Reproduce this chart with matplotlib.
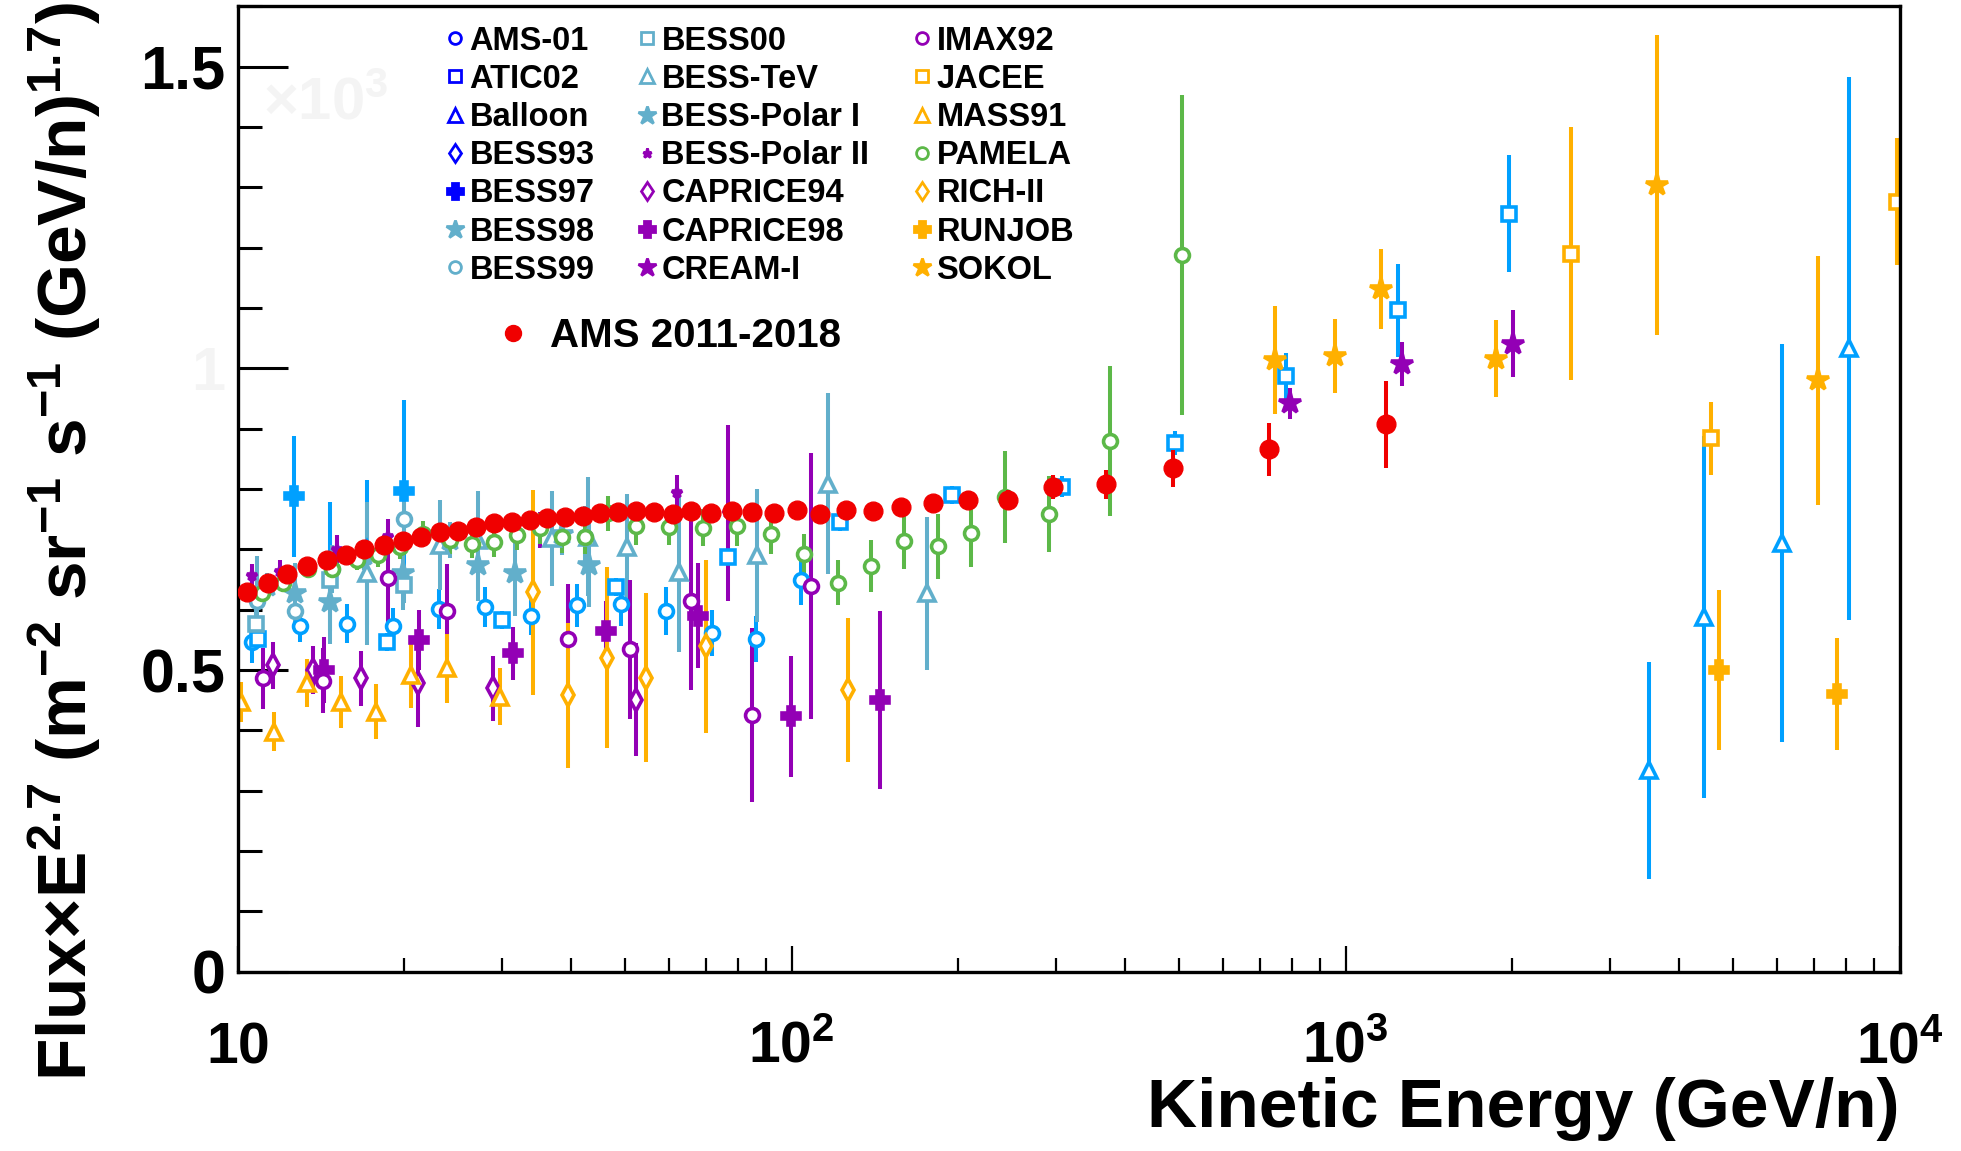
import numpy as np
import matplotlib
matplotlib.use("Agg")
import matplotlib.pyplot as plt
from matplotlib.lines import Line2D
from matplotlib.ticker import MultipleLocator, LogLocator, NullFormatter
import matplotlib.transforms as mtransforms

plt.rcParams['font.family'] = ['Liberation Sans', 'DejaVu Sans']
plt.rcParams['font.weight'] = 'bold'
plt.rcParams['mathtext.fontset'] = 'custom'
plt.rcParams['mathtext.rm'] = 'Liberation Sans:bold'
plt.rcParams['mathtext.it'] = 'Liberation Sans:bold'
plt.rcParams['mathtext.bf'] = 'Liberation Sans:bold'

# ---- data (Flux x E^2.7, units of 10^3) ----
ams_E = [10.39, 11.33, 12.29, 13.33, 14.48, 15.69, 16.93, 18.38, 19.86, 21.43, 23.19, 24.96,
         26.93, 29.00, 31.25, 33.72, 36.23, 38.99, 41.97, 45.10, 48.67, 52.38, 56.44, 61.15,
         65.82, 71.53, 77.97, 84.95, 93.07, 102.1, 112.5, 125.4, 140.1, 157.4, 179.8, 208.4,
         245.5, 296.0, 369.0, 488.7, 727.9, 1183]
ams_y = [0.629, 0.644, 0.659, 0.673, 0.682, 0.690, 0.700, 0.708, 0.714, 0.721, 0.729, 0.731,
         0.737, 0.743, 0.746, 0.748, 0.752, 0.754, 0.755, 0.760, 0.762, 0.764, 0.762, 0.758,
         0.764, 0.760, 0.764, 0.762, 0.760, 0.765, 0.758, 0.766, 0.764, 0.770, 0.777, 0.782,
         0.782, 0.804, 0.808, 0.834, 0.866, 0.907]
ams_err = [0.004] * 24 + [0.005, 0.005, 0.006, 0.006, 0.007, 0.007, 0.008, 0.009, 0.010,
                          0.011, 0.012, 0.014, 0.016, 0.020, 0.024, 0.030, 0.044, 0.072]

ams01_E = [10.6, 12.96, 15.74, 19.10, 23.1, 27.96, 33.85, 40.94, 49.22, 59.33, 71.74, 86.15, 103.8]
ams01_y = [0.547, 0.573, 0.577, 0.573, 0.601, 0.605, 0.590, 0.607, 0.609, 0.598, 0.561, 0.551, 0.650]
ams01_err = [0.035, 0.026, 0.032, 0.030, 0.033, 0.033, 0.032, 0.035, 0.036, 0.040, 0.038, 0.038, 0.043]

atic_E = [10.9, 18.58, 29.97, 48.2, 76.9, 122.4, 194.5, 308.0, 491, 780, 1242, 1969]
atic_y = [0.552, 0.547, 0.583, 0.638, 0.688, 0.746, 0.790, 0.804, 0.876, 0.987, 1.096, 1.256]
atic_err = [0.015, 0.015, 0.015, 0.015, 0.015, 0.015, 0.015, 0.018, 0.02, 0.039, 0.077, 0.097]

balloon_E = [3524, 4444, 6133, 8089]
balloon_y = [0.334, 0.588, 0.710, 1.033]
balloon_err = [0.18, 0.30, 0.33, 0.45]

bess93_E = [14.68, 17.1]
bess93_y = [0.672, 0.695]
bess93_err = [0.107, 0.12]

bess97_E = [12.66, 19.97]
bess97_y = [0.788, 0.797]
bess97_err = [0.10, 0.15]

bess98_E = [12.69, 14.68, 19.9, 27.2, 31.7, 43.1]
bess98_y = [0.627, 0.613, 0.660, 0.674, 0.660, 0.674]
bess98_err = [0.05, 0.07, 0.06, 0.06, 0.07, 0.07]

bess99_E = [10.83, 12.69, 14.78, 19.93, 42.4]
bess99_y = [0.614, 0.597, 0.668, 0.751, 0.721]
bess99_err = [0.075, 0.03, 0.04, 0.04, 0.05]

bess00_E = [10.8, 14.67, 19.93]
bess00_y = [0.577, 0.649, 0.641]
bess00_err = [0.03, 0.03, 0.03]

besstev_E = [17.1, 23.19, 27.2, 36.9, 42.96, 50.4, 62.7, 86.5, 116.4, 175.4]
besstev_y = [0.660, 0.707, 0.715, 0.718, 0.721, 0.704, 0.663, 0.690, 0.809, 0.627]
besstev_err = [0.119, 0.075, 0.081, 0.079, 0.099, 0.088, 0.133, 0.11, 0.15, 0.127]

polar1_E = [11.3, 16.9, 24.2, 38.5]
polar1_y = [0.64, 0.69, 0.715, 0.725]
polar1_err = [0.02, 0.025, 0.03, 0.035]

polar2_E = [10.6, 11.93, 15.1, 18.7, 35.1, 62.0, 76.9]
polar2_y = [0.655, 0.663, 0.699, 0.721, 0.732, 0.793, 0.760]
polar2_err = [0.02, 0.02, 0.025, 0.03, 0.03, 0.03, 0.146]

cap94_E = [11.57, 13.67, 16.7, 21.2, 28.9, 52.4]
cap94_y = [0.508, 0.500, 0.486, 0.479, 0.470, 0.451]
cap94_err = [0.039, 0.04, 0.046, 0.073, 0.054, 0.094]

cap98_E = [14.34, 21.28, 31.45, 46.2, 67.7, 99.7, 144.4]
cap98_y = [0.500, 0.550, 0.528, 0.565, 0.590, 0.423, 0.450]
cap98_err = [0.054, 0.05, 0.044, 0.05, 0.087, 0.10, 0.147]

cream_E = [794, 1265, 2005]
cream_y = [0.942, 1.007, 1.041]
cream_err = [0.026, 0.037, 0.056]

imax_E = [11.13, 14.28, 18.66, 23.85, 39.4, 51.1, 65.8, 84.9, 108.4]
imax_y = [0.486, 0.482, 0.652, 0.598, 0.552, 0.534, 0.615, 0.425, 0.639]
imax_err = [0.05, 0.054, 0.075, 0.077, 0.09, 0.115, 0.148, 0.144, 0.22]

jacee_E = [2555, 4562, 9876]
jacee_y = [1.190, 0.884, 1.276]
jacee_err = [0.21, 0.06, 0.105]

mass_E = [10.14, 11.65, 13.34, 15.37, 17.77, 20.56, 23.85, 29.77]
mass_y = [0.447, 0.398, 0.478, 0.447, 0.431, 0.492, 0.503, 0.456]
mass_err = [0.033, 0.033, 0.04, 0.043, 0.046, 0.055, 0.057, 0.047]

pamela_E = [11.05, 12.09, 13.42, 14.79, 16.41, 17.95, 19.64, 21.64, 24.17, 26.46, 29.03, 31.98,
            35.14, 38.46, 42.38, 46.56, 52.38, 60.16, 69.28, 79.60, 91.68, 105.3, 121.1, 138.9,
            159.7, 183.5, 210.8, 242.8, 291.5, 375.6, 505.8]
pamela_y = [0.627, 0.644, 0.668, 0.668, 0.683, 0.690, 0.704, 0.726, 0.715, 0.709, 0.712, 0.724,
            0.735, 0.721, 0.721, 0.760, 0.738, 0.737, 0.736, 0.738, 0.725, 0.692, 0.645, 0.672,
            0.714, 0.705, 0.727, 0.787, 0.758, 0.880, 1.188]
pamela_err = [0.015, 0.015, 0.016, 0.017, 0.018, 0.019, 0.02, 0.021, 0.022, 0.023, 0.024, 0.025,
              0.026, 0.027, 0.028, 0.029, 0.03, 0.03, 0.031, 0.032, 0.033, 0.033, 0.038, 0.043,
              0.047, 0.054, 0.057, 0.076, 0.063, 0.124, 0.265]

rich_E = [34.1, 39.5, 46.4, 54.5, 70.0, 126.3]
rich_y = [0.629, 0.458, 0.520, 0.487, 0.539, 0.467]
rich_err = [0.17, 0.12, 0.15, 0.14, 0.144, 0.12]

runjob_E = [4717, 7716]
runjob_y = [0.500, 0.460]
runjob_err = [0.133, 0.093]

sokol_E = [745, 956, 1159, 1866, 3652, 7116]
sokol_y = [1.014, 1.020, 1.131, 1.016, 1.304, 0.980]
sokol_err = [0.089, 0.061, 0.066, 0.064, 0.249, 0.207]

# ---- colours ----
BLUE = '#00a0ff'
BLUE_LEG = '#0000ff'
CYAN = '#62afcb'
PURPLE = '#9300b5'
ORANGE = '#ffb000'
GREEN = '#5cb848'
RED = '#f00000'

# name, E, y, err, colour, legend colour, marker, size, open
datasets = [
    ('AMS-01', ams01_E, ams01_y, ams01_err, BLUE, BLUE_LEG, 'o', 10, True),
    ('ATIC02', atic_E, atic_y, atic_err, BLUE, BLUE_LEG, 's', 10, True),
    ('Balloon', balloon_E, balloon_y, balloon_err, BLUE, BLUE_LEG, '^', 12, True),
    ('BESS93', bess93_E, bess93_y, bess93_err, BLUE, BLUE_LEG, 'd', 11, True),
    ('BESS97', bess97_E, bess97_y, bess97_err, BLUE, BLUE_LEG, 'P', 13, False),
    ('BESS98', bess98_E, bess98_y, bess98_err, CYAN, CYAN, '*', 16, False),
    ('BESS99', bess99_E, bess99_y, bess99_err, CYAN, CYAN, 'o', 10, True),
    ('BESS00', bess00_E, bess00_y, bess00_err, CYAN, CYAN, 's', 10, True),
    ('BESS-TeV', besstev_E, besstev_y, besstev_err, CYAN, CYAN, '^', 12, True),
    ('BESS-Polar I', polar1_E, polar1_y, polar1_err, CYAN, CYAN, '*', 16, False),
    ('BESS-Polar II', polar2_E, polar2_y, polar2_err, PURPLE, PURPLE, '*', 8, False),
    ('CAPRICE94', cap94_E, cap94_y, cap94_err, PURPLE, PURPLE, 'd', 11, True),
    ('CAPRICE98', cap98_E, cap98_y, cap98_err, PURPLE, PURPLE, 'P', 13, False),
    ('CREAM-I', cream_E, cream_y, cream_err, PURPLE, PURPLE, '*', 16, False),
    ('IMAX92', imax_E, imax_y, imax_err, PURPLE, PURPLE, 'o', 10, True),
    ('JACEE', jacee_E, jacee_y, jacee_err, ORANGE, ORANGE, 's', 10, True),
    ('MASS91', mass_E, mass_y, mass_err, ORANGE, ORANGE, '^', 12, True),
    ('PAMELA', pamela_E, pamela_y, pamela_err, GREEN, GREEN, 'o', 10, True),
    ('RICH-II', rich_E, rich_y, rich_err, ORANGE, ORANGE, 'd', 11, True),
    ('RUNJOB', runjob_E, runjob_y, runjob_err, ORANGE, ORANGE, 'P', 13, False),
    ('SOKOL', sokol_E, sokol_y, sokol_err, ORANGE, ORANGE, '*', 16, False),
]

xtick_vals = [10, 100, 1000, 10000]
xtick_labels = [r'$10$', r'$10^{2}$', r'$10^{3}$', r'$10^{4}$']
ytick_vals = [0, 0.5, 1, 1.5]
ytick_labels = ['0', '0.5', '1', '1.5']

fig = plt.figure(figsize=(19.61, 11.51), dpi=100)
ax = fig.add_axes([0.1212, 0.1558, 0.8475, 0.8387])

for name, E, y, err, col, lcol, mk, ms, hollow in datasets:
    ax.errorbar(E, y, yerr=err, fmt=mk, color=col, ms=ms, mec=col,
                mfc='white' if hollow else col, mew=2.6, elinewidth=2.9, capsize=0)

ax.errorbar(ams_E, ams_y, yerr=ams_err, fmt='o', color=RED, ms=13.5, mec=RED,
            mfc=RED, elinewidth=2.9, capsize=0, zorder=5)

ax.set_xscale('log')
ax.set_xlim(10, 10000)
ax.set_ylim(0, 1.6)

for s in ax.spines.values():
    s.set_linewidth(2.4)

ax.set_yticks(ytick_vals)
ax.set_yticklabels(ytick_labels, fontsize=44, fontweight='bold')
ax.get_yticklabels()[2].set_color('#f4f4f4')
ax.yaxis.set_minor_locator(MultipleLocator(0.1))
ax.tick_params(axis='y', which='major', direction='in', length=36, width=2.2, pad=9)
ax.tick_params(axis='y', which='minor', direction='in', length=17, width=2.2)

ax.set_xticks(xtick_vals)
ax.xaxis.set_minor_locator(LogLocator(base=10, subs=np.arange(2, 10)))
ax.xaxis.set_minor_formatter(NullFormatter())
ax.tick_params(axis='x', which='major', direction='in', length=19, width=1.6, labelbottom=False)
ax.tick_params(axis='x', which='minor', direction='in', length=10, width=1.6)

trans = mtransforms.blended_transform_factory(ax.transData, ax.transAxes)
for xv, lab in zip(xtick_vals, xtick_labels):
    ax.text(xv, -0.0946, lab, transform=trans, ha='center', va='baseline', fontsize=41,
            clip_on=False)

ax.text(0.0153, 0.883, r'$\times$10$^{3}$', transform=ax.transAxes, fontsize=43,
        color='#f4f4f4', ha='left', va='baseline')

fig.text(0.9687, 0.021, 'Kinetic Energy (GeV/n)', ha='right', va='baseline',
         fontsize=50, fontweight='bold')
fig.text(0.033, 0.998,
         r'Flux$\times$E$^{2.7}$ (m$^{-2}$ sr$^{-1}$ s$^{-1}$ (GeV/n)$^{1.7}$)',
         rotation=90, ha='center', va='top', fontsize=50, fontweight='bold')

handles = []
labels = []
for name, E, y, err, col, lcol, mk, ms, hollow in datasets:
    handles.append(Line2D([], [], ls='none', marker=mk, color=lcol, mec=lcol,
                          mfc='white' if hollow else lcol, ms=ms * 0.85, mew=2.0))
    labels.append(name)
leg = ax.legend(handles, labels, ncol=3, loc='upper left', bbox_to_anchor=(0.1248, 0.980),
                frameon=False, prop={'family': 'Liberation Sans', 'weight': 'bold', 'size': 23.5},
                handlelength=0.6, handletextpad=0.15, columnspacing=1.3, labelspacing=0.22,
                borderpad=0, borderaxespad=0)
ax.add_artist(leg)

ams_handle = Line2D([], [], ls='none', marker='o', color=RED, ms=11.5)
ax.legend([ams_handle], ['AMS 2011-2018'], loc='center left', bbox_to_anchor=(0.1606, 0.6585),
          frameon=False, prop={'family': 'Liberation Sans', 'weight': 'bold', 'size': 29},
          handlelength=0.4, handletextpad=0.72, borderpad=0, borderaxespad=0)

fig.savefig('out.png', dpi=100)
